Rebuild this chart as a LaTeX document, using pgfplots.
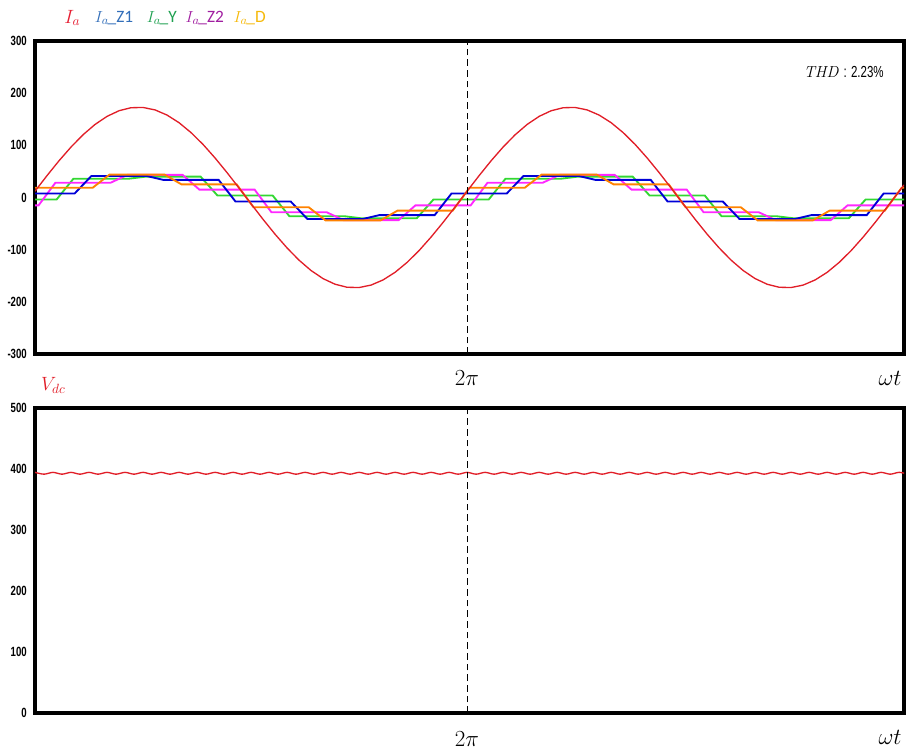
\documentclass[border=0pt]{standalone}
\usepackage{fontspec}
\usepackage{pgfplots}
\pgfplotsset{compat=1.18}
\newfontfamily\narrow[FakeStretch=0.72]{Liberation Sans}
\newfontfamily\calib{Carlito}
\definecolor{cred}{RGB}{225,30,40}
\definecolor{cblue}{RGB}{0,0,215}
\definecolor{cgreen}{RGB}{50,215,50}
\definecolor{cmag}{RGB}{255,40,255}
\definecolor{corange}{RGB}{255,130,0}
\definecolor{lred}{RGB}{230,30,50}
\definecolor{lblue}{RGB}{50,110,185}
\definecolor{lgreen}{RGB}{30,160,80}
\definecolor{lpurple}{RGB}{160,30,160}
\definecolor{lgold}{RGB}{245,185,10}
\pgfplotsset{myax/.style={scale only axis, width=651.75pt, xmin=0, xmax=724,
  axis line style={line width=2.3pt}, xtick=\empty, major tick length=0pt,
  tick label style={font=\narrow\bfseries\fontsize{10}{11}\selectfont},
  yticklabel style={inner sep=0pt, xshift=-6pt},
  /pgf/number format/assume math mode=true, clip=true, anchor=north west}}
\begin{document}
\begin{tikzpicture}
\useasboundingbox (0,0) rectangle (679.5pt,-561.75pt);
% ---------------- top axis ----------------
\begin{axis}[myax, at={(26.25pt,-30.75pt)}, height=234.75pt, ymin=-300, ymax=300, ytick={-300,-200,...,300}]
\addplot[cgreen, line width=1.4pt] coordinates {(0,-3.8) (18,-3.8) (32,36) (78,36) (92,39.9) (138,39.9) (152,3.8) (198,3.8) (212,-36) (258,-36) (272,-39.9) (318,-39.9) (332,-3.8) (378,-3.8) (392,36) (438,36) (452,39.9) (498,39.9) (512,3.8) (558,3.8) (572,-36) (618,-36) (632,-39.9) (678,-39.9) (692,-3.8) (724,-3.8)};
\addplot[cmag, line width=1.4pt] coordinates {(0,-15) (3,-15) (17,28.3) (63,28.3) (77,43.3) (123,43.3) (137,15) (183,15) (197,-28.3) (243,-28.3) (257,-43.3) (303,-43.3) (317,-15) (363,-15) (377,28.3) (423,28.3) (437,43.3) (483,43.3) (497,15) (543,15) (557,-28.3) (603,-28.3) (617,-43.3) (663,-43.3) (677,-15) (724,-15)};
\addplot[cblue, line width=1.4pt] coordinates {(0,7.6) (33,7.6) (47,41.3) (93,41.3) (107,33.7) (153,33.7) (167,-7.6) (213,-7.6) (227,-41.3) (273,-41.3) (287,-33.7) (333,-33.7) (347,7.6) (393,7.6) (407,41.3) (453,41.3) (467,33.7) (513,33.7) (527,-7.6) (573,-7.6) (587,-41.3) (633,-41.3) (647,-33.7) (693,-33.7) (707,7.6) (724,7.6)};
\addplot[corange, line width=1.4pt] coordinates {(0,18.6) (48,18.6) (62,43.8) (108,43.8) (122,25.2) (168,25.2) (182,-18.6) (228,-18.6) (242,-43.8) (288,-43.8) (302,-25.2) (348,-25.2) (362,18.6) (408,18.6) (422,43.8) (468,43.8) (482,25.2) (528,25.2) (542,-18.6) (588,-18.6) (602,-43.8) (648,-43.8) (662,-25.2) (708,-25.2) (722,18.6) (724,18.6)};
\addplot[cred, line width=1pt] coordinates {(0,12.1) (10,41.9) (20,70.4) (30,96.7) (40,120.2) (50,140.0) (60,155.5) (70,166.3) (80,172.1) (90,172.6) (100,167.9) (110,158.0) (120,143.4) (130,124.4) (140,101.7) (150,75.8) (160,47.7) (170,18.1) (180,-12.1) (190,-41.9) (200,-70.4) (210,-96.7) (220,-120.2) (230,-140.0) (240,-155.5) (250,-166.3) (260,-172.1) (270,-172.6) (280,-167.9) (290,-158.0) (300,-143.4) (310,-124.4) (320,-101.7) (330,-75.8) (340,-47.7) (350,-18.1) (360,12.1) (370,41.9) (380,70.4) (390,96.7) (400,120.2) (410,140.0) (420,155.5) (430,166.3) (440,172.1) (450,172.6) (460,167.9) (470,158.0) (480,143.4) (490,124.4) (500,101.7) (510,75.8) (520,47.7) (530,18.1) (540,-12.1) (550,-41.9) (560,-70.4) (570,-96.7) (580,-120.2) (590,-140.0) (600,-155.5) (610,-166.3) (620,-172.1) (630,-172.6) (640,-167.9) (650,-158.0) (660,-143.4) (670,-124.4) (680,-101.7) (690,-75.8) (700,-47.7) (710,-18.1) (720,12.1) (724,24.1)};
\addplot[black, line width=0.8pt, dash pattern=on 5pt off 3pt] coordinates {(360,-300) (360,300)};
\end{axis}
% ---------------- bottom axis ----------------
\begin{axis}[myax, at={(26.25pt,-306pt)}, height=228.75pt, ymin=0, ymax=500, ytick={0,100,...,500}]
\addplot[cred, line width=1pt, smooth] coordinates {(0,394.5) (7.5,391.5) (15,394.5) (22.5,391.5) (30,394.5) (37.5,391.5) (45,394.5) (52.5,391.5) (60,394.5) (67.5,391.5) (75,394.5) (82.5,391.5) (90,394.5) (97.5,391.5) (105,394.5) (112.5,391.5) (120,394.5) (127.5,391.5) (135,394.5) (142.5,391.5) (150,394.5) (157.5,391.5) (165,394.5) (172.5,391.5) (180,394.5) (187.5,391.5) (195,394.5) (202.5,391.5) (210,394.5) (217.5,391.5) (225,394.5) (232.5,391.5) (240,394.5) (247.5,391.5) (255,394.5) (262.5,391.5) (270,394.5) (277.5,391.5) (285,394.5) (292.5,391.5) (300,394.5) (307.5,391.5) (315,394.5) (322.5,391.5) (330,394.5) (337.5,391.5) (345,394.5) (352.5,391.5) (360,394.5) (367.5,391.5) (375,394.5) (382.5,391.5) (390,394.5) (397.5,391.5) (405,394.5) (412.5,391.5) (420,394.5) (427.5,391.5) (435,394.5) (442.5,391.5) (450,394.5) (457.5,391.5) (465,394.5) (472.5,391.5) (480,394.5) (487.5,391.5) (495,394.5) (502.5,391.5) (510,394.5) (517.5,391.5) (525,394.5) (532.5,391.5) (540,394.5) (547.5,391.5) (555,394.5) (562.5,391.5) (570,394.5) (577.5,391.5) (585,394.5) (592.5,391.5) (600,394.5) (607.5,391.5) (615,394.5) (622.5,391.5) (630,394.5) (637.5,391.5) (645,394.5) (652.5,391.5) (660,394.5) (667.5,391.5) (675,394.5) (682.5,391.5) (690,394.5) (697.5,391.5) (705,394.5) (712.5,391.5) (720,394.5) (727.5,391.5)};
\addplot[black, line width=0.8pt, dash pattern=on 5pt off 3pt] coordinates {(360,0) (360,500)};
\end{axis}
% ---------------- texts ----------------
\node[anchor=west, inner sep=0pt] at (48pt,-13.5pt) {\fontsize{14}{15}\selectfont\color{lred}$I_a$};
\node[anchor=west, inner sep=0pt] at (71pt,-13.5pt) {\fontsize{13}{14}\selectfont\color{lblue}$I_{a}$\kern-1pt\calib\_Z1};
\node[anchor=west, inner sep=0pt] at (110pt,-13.5pt) {\fontsize{13}{14}\selectfont\color{lgreen}$I_{a}$\kern-1pt\calib\_Y};
\node[anchor=west, inner sep=0pt] at (139pt,-13.5pt) {\fontsize{13}{14}\selectfont\color{lpurple}$I_{a}$\kern-1pt\calib\_Z2};
\node[anchor=west, inner sep=0pt] at (175pt,-13.5pt) {\fontsize{13}{14}\selectfont\color{lgold}$I_{a}$\kern-1pt\calib\_D};
\node[anchor=east, inner sep=0pt] at (663pt,-54pt) {\fontsize{12}{13}\selectfont$\mathit{THD}$\ {\narrow : 2.23\%}};
\node[inner sep=0pt] at (350.25pt,-283.5pt) {\fontsize{16}{17}\selectfont$2\pi$};
\node[inner sep=0pt] at (667.5pt,-283.5pt) {\fontsize{16}{17}\selectfont$\omega t$};
\node[inner sep=0pt, text=cred] at (40pt,-289pt) {\fontsize{14}{15}\selectfont$V_{dc}$};
\node[inner sep=0pt] at (350.25pt,-554pt) {\fontsize{16}{17}\selectfont$2\pi$};
\node[inner sep=0pt] at (667.5pt,-552.75pt) {\fontsize{16}{17}\selectfont$\omega t$};
\end{tikzpicture}
\end{document}
